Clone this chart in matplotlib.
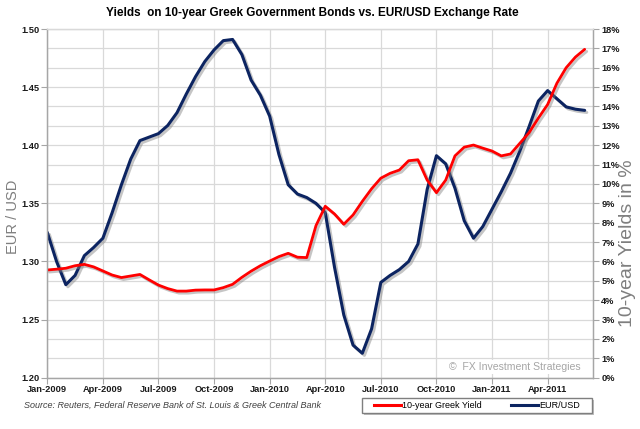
import numpy as np
import matplotlib.pyplot as plt
import matplotlib.patheffects as pe
from matplotlib.lines import Line2D
from matplotlib.patches import Rectangle

plt.rcParams['font.family'] = ['Liberation Sans', 'DejaVu Sans']

# Values every half month, Jan 2009 .. Jun 2011
eurusd = [1.325, 1.300, 1.280, 1.288, 1.305, 1.312, 1.320, 1.342, 1.366, 1.388,
          1.404, 1.407, 1.410, 1.417, 1.428, 1.444, 1.459, 1.472, 1.482, 1.490,
          1.491, 1.478, 1.456, 1.443, 1.425, 1.392, 1.366, 1.358, 1.355, 1.350,
          1.342, 1.295, 1.254, 1.228, 1.221, 1.242, 1.282, 1.288, 1.293, 1.300,
          1.315, 1.362, 1.391, 1.384, 1.363, 1.335, 1.320, 1.330, 1.345, 1.360,
          1.376, 1.395, 1.416, 1.438, 1.447, 1.440, 1.433, 1.431, 1.430]
greek_yield = [5.56, 5.60, 5.65, 5.78, 5.85, 5.72, 5.51, 5.30, 5.17, 5.25,
               5.33, 5.05, 4.78, 4.60, 4.47, 4.47, 4.52, 4.53, 4.53, 4.65,
               4.82, 5.18, 5.50, 5.78, 6.02, 6.25, 6.42, 6.22, 6.20, 7.85,
               8.85, 8.45, 7.92, 8.40, 9.10, 9.75, 10.30, 10.55, 10.72, 11.20,
               11.25, 10.20, 9.55, 10.20, 11.45, 11.90, 12.01, 11.85, 11.70, 11.45,
               11.55, 12.10, 12.65, 13.40, 14.10, 15.20, 16.00, 16.55, 16.95]
quarter_labels = ['Jan-2009', 'Apr-2009', 'Jul-2009', 'Oct-2009', 'Jan-2010',
                  'Apr-2010', 'Jul-2010', 'Oct-2010', 'Jan-2011', 'Apr-2011']

x = np.arange(len(eurusd)) * 0.5   # months since Jan 2009

grid_c = '#d9d9d9'
axis_c = '#a6a6a6'
tick_font = dict(fontsize=6.7, fontweight='bold', color='#1a1a1a')

fig = plt.figure(figsize=(6.4, 4.29), dpi=100)
ax = fig.add_axes([0.0739, 0.1196, 0.8527, 0.8128])
ax2 = ax.twinx()

shadow = [pe.SimpleLineShadow(offset=(1.5, -1.5), shadow_color='#808080', alpha=0.45), pe.Normal()]
ax.plot(x, eurusd, color='#0c2461', lw=2.2, path_effects=shadow, solid_capstyle='round')
ax2.plot(x, greek_yield, color='#ff0000', lw=2.0, path_effects=shadow, solid_capstyle='round')

ax.set_xlim(0, 29.45)
ax.set_ylim(1.20, 1.50)
ax2.set_ylim(0, 18)

ax.set_xticks(np.arange(len(quarter_labels)) * 3)
ax.set_xticklabels(quarter_labels, **tick_font)
ax.set_yticks(np.arange(1.20, 1.501, 0.05))
ax.set_yticklabels(['%.2f' % v for v in np.arange(1.20, 1.501, 0.05)], **tick_font)
ax.set_yticks(np.linspace(1.20, 1.50, 19), minor=True)
ax2.set_yticks(np.arange(0, 19))
ax2.set_yticklabels(['%d%%' % v for v in range(19)], **tick_font)

ax.grid(True, axis='x', color=grid_c, lw=0.9)
ax.grid(True, which='both', axis='y', color=grid_c, lw=0.9)
ax.set_axisbelow(True)
ax.tick_params(axis='y', which='minor', length=0)
ax.tick_params(axis='both', which='major', length=4, color=axis_c, pad=1.5)
ax2.tick_params(axis='y', length=4, color=axis_c, pad=2)

for a in (ax, ax2):
    for s in a.spines.values():
        s.set_color(axis_c)
        s.set_linewidth(0.9)
ax.spines['top'].set_color(grid_c)
ax2.spines['top'].set_color(grid_c)

fig.text(0.488, 1 - 13 / 429, 'Yields  on 10-year Greek Government Bonds vs. EUR/USD Exchange Rate',
         ha='center', va='center', fontsize=8.5, fontweight='bold')
fig.text(13 / 640, 1 - 217 / 429, 'EUR / USD', rotation=90, ha='center', va='center',
         fontsize=10.5, color='#7f7f7f')
fig.text(628 / 640, 1 - 243 / 429, '10-year Yields in %', rotation=90, ha='center', va='center',
         fontsize=14, color='#7f7f7f')
fig.text(24 / 640, 1 - 405 / 429,
         'Source: Reuters, Federal Reserve Bank of St. Louis & Greek Central Bank',
         ha='left', va='center', fontsize=6.5, style='italic', color='#404040')
fig.text(515 / 640, 1 - 367 / 429, '\u00a9  FX Investment Strategies', ha='center', va='center',
         fontsize=7.6, color='#a6a6a6',
         bbox=dict(facecolor='white', edgecolor='none', pad=1.5))

# legend box with a soft shadow
bx, by, bw, bh = 362 / 640, 1 - 413 / 429, 230 / 640, 15 / 429
fig.patches.append(Rectangle((bx + 2 / 640, by - 2 / 429), bw, bh, transform=fig.transFigure,
                             facecolor='#bfbfbf', edgecolor='none', zorder=1))
fig.patches.append(Rectangle((bx, by), bw, bh, transform=fig.transFigure,
                             facecolor='white', edgecolor='#7f7f7f', lw=1.0, zorder=2))
handles = [Line2D([], [], color='#ff0000', lw=2.2), Line2D([], [], color='#0c2461', lw=2.2)]
leg = fig.legend(handles, ['10-year Greek Yield', 'EUR/USD'], ncol=2, loc='center',
                 bbox_to_anchor=(477 / 640, by + bh / 2),
                 fontsize=6.5, frameon=False, handlelength=3.0, handletextpad=0.1,
                 columnspacing=3.2, borderpad=0.2)
leg.set_zorder(3)

fig.savefig('out.png', dpi=100, facecolor='white')
